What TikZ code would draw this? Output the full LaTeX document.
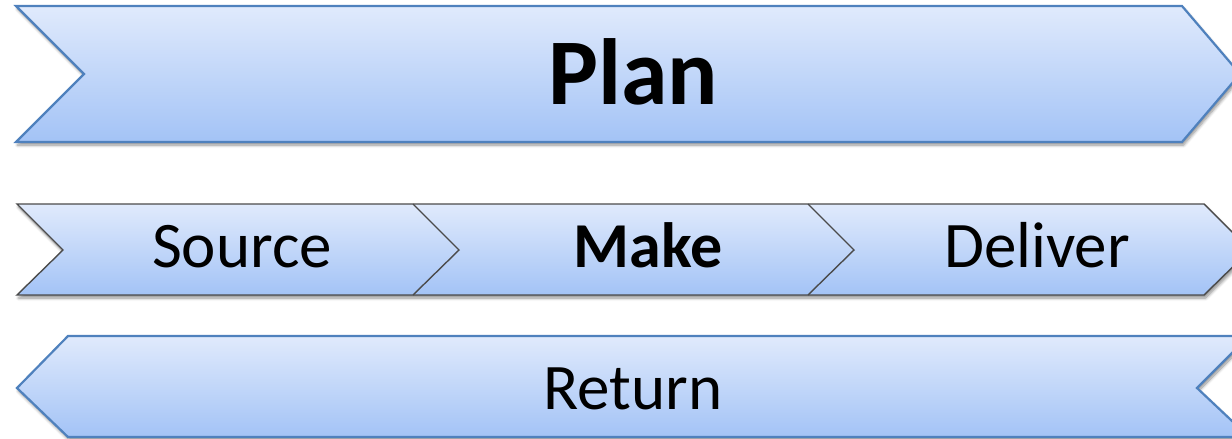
\documentclass[tikz,border=0pt]{standalone}
\usepackage{fontspec}
\setmainfont{Carlito}
\usepackage{tikz}
\usetikzlibrary{shadows.blur}
\usepackage{xcolor}
\definecolor{lightblue}{RGB}{224,234,252}
\definecolor{midblue}{RGB}{163,195,246}
\definecolor{edgeblue}{RGB}{79,129,189}
\definecolor{edgegray}{RGB}{75,75,75}
\tikzstyle{band} = [top color=lightblue, bottom color=midblue,%
	blur shadow={shadow xshift=1.5pt, shadow yshift=-3pt,%
	shadow blur radius=3pt, shadow blur steps=6, shadow opacity=45}]
\tikzstyle{bigband} = [band, draw=edgeblue, line width=2.2pt, line join=miter]
\tikzstyle{stepband} = [band, draw=edgegray, line width=1.4pt]
\tikzstyle{bandtext} = [anchor=base, inner sep=0pt, text=black]

\begin{document}
\begin{tikzpicture}[x=1pt, y=-1pt]
		\useasboundingbox (0,0) rectangle (1232,439);
		% top band
		\path[bigband] (16,6) -- (1182,6) -- (1240,74) -- (1182,142) -- (16,142) -- (84,74) -- cycle;
		\node[bandtext, font=\fontsize{94}{94}\selectfont\bfseries] (plan) at (633,104) {Plan};
		% middle row, three chevrons
		\path[stepband] (17,204) -- (1204,204) -- (1250,250) -- (1204,295) -- (17,295) -- (63,250) -- cycle;
		\foreach \x in {413,808}
			\draw[edgegray, line width=1.4pt] (\x,204) -- (\x+46,250) -- (\x,295);
		\node[bandtext, font=\fontsize{65}{65}\selectfont] (source) at (242,267) {Source};
		\node[bandtext, font=\fontsize{64}{64}\selectfont\bfseries] (make) at (648,267) {Make};
		\node[bandtext, font=\fontsize{65}{65}\selectfont] (deliver) at (1037,267) {Deliver};
		% bottom band, pointing back
		\path[bigband] (17,388) -- (68,336) -- (1249,336) -- (1197,388) -- (1249,437) -- (68,437) -- cycle;
		\node[bandtext, font=\fontsize{65}{65}\selectfont] (return) at (633,409) {Return};
	\end{tikzpicture}
\end{document}
